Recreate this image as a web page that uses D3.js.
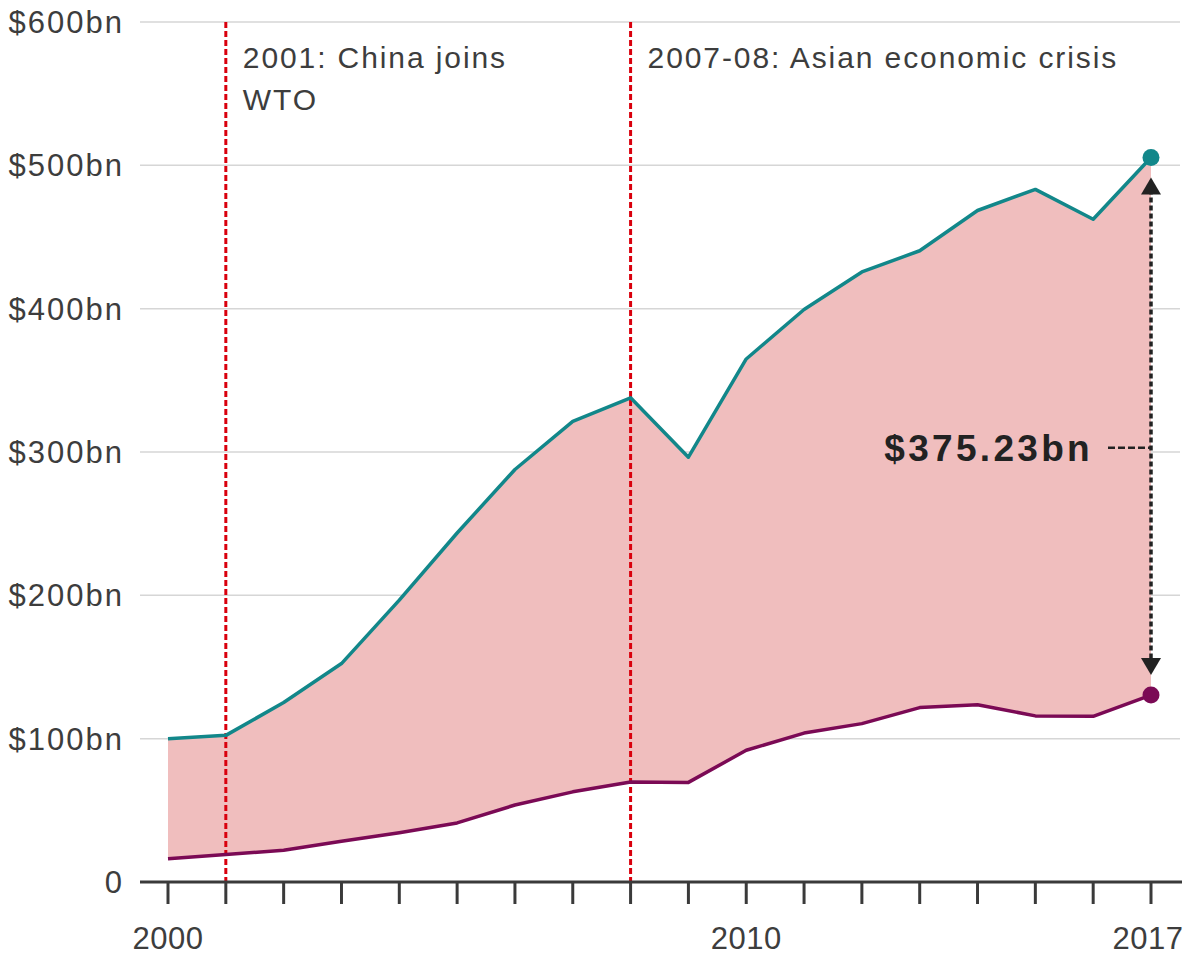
<!DOCTYPE html>
<html>
<head>
<meta charset="utf-8">
<script src="https://cdnjs.cloudflare.com/ajax/libs/d3/7.8.5/d3.min.js"></script>
<style>
  body { margin: 0; background: #fff; }
  svg text { font-family: "Liberation Sans", Arial, Helvetica, sans-serif; }
</style>
</head>
<body>
<div id="chart"></div>
<script>
// US trade with China, $bn
const years = d3.range(2000, 2018);
const imports = [100.0, 102.3, 125.2, 152.4, 196.7, 243.5, 287.8, 321.4, 337.8, 296.4,
                 364.9, 399.4, 425.6, 440.4, 468.5, 483.2, 462.4, 505.5];
const exports = [16.2, 19.2, 22.1, 28.4, 34.4, 41.2, 53.7, 62.9, 69.7, 69.5,
                 91.9, 103.9, 110.5, 121.7, 123.7, 115.9, 115.6, 130.4];
const yTicks = [0, 100, 200, 300, 400, 500, 600];
const xLabels = [2000, 2010, 2017];
const events = [
    { year: 2001, lines: ["2001: China joins", "WTO"] },
    { year: 2008, lines: ["2007-08: Asian economic crisis"] }
];
const gapLabel = "$375.23bn";
const gapLabelValue = 303;

const W = 1192, H = 957;
const textCol = "#3d3d3d";

const svg = d3.select("#chart").append("svg")
    .attr("width", W)
    .attr("height", H);

const x = d3.scaleLinear().domain([2000, 2017]).range([168, 1151]);
const y = d3.scaleLinear().domain([0, 600]).range([882, 22]);

// gridlines + y labels
const grid = svg.append("g");
yTicks.filter(d => d > 0).forEach(d => {
    grid.append("line")
        .attr("x1", 140).attr("x2", 1180)
        .attr("y1", y(d)).attr("y2", y(d))
        .attr("stroke", "#d6d6d6")
        .attr("stroke-width", 1.5);
});
yTicks.forEach(d => {
    grid.append("text")
        .attr("x", 124)
        .attr("y", y(d) + 11)
        .attr("text-anchor", "end")
        .attr("font-size", 31)
        .attr("letter-spacing", 2)
        .attr("fill", textCol)
        .text(d === 0 ? "0" : `$${d}bn`);
});

// area between series
const data = years.map((yr, i) => ({ year: yr, hi: imports[i], lo: exports[i] }));

svg.append("path")
    .datum(data)
    .attr("fill", "#f0bebe")
    .attr("d", d3.area()
        .x(d => x(d.year))
        .y0(d => y(d.lo))
        .y1(d => y(d.hi)));

// event lines
events.forEach(ev => {
    svg.append("line")
        .attr("x1", x(ev.year)).attr("x2", x(ev.year))
        .attr("y1", y(600)).attr("y2", y(0))
        .attr("stroke", "#d9000d")
        .attr("stroke-width", 3)
        .attr("stroke-dasharray", "6,3");
    ev.lines.forEach((t, k) => {
        svg.append("text")
            .attr("x", x(ev.year) + 17)
            .attr("y", 68 + k * 42)
            .attr("font-size", 30)
            .attr("letter-spacing", 1.9)
            .attr("fill", textCol)
            .text(t);
    });
});

// series lines
svg.append("path")
    .datum(data)
    .attr("fill", "none")
    .attr("stroke", "#12878a")
    .attr("stroke-width", 3.5)
    .attr("stroke-linejoin", "round")
    .attr("d", d3.line().x(d => x(d.year)).y(d => y(d.hi)));

svg.append("path")
    .datum(data)
    .attr("fill", "none")
    .attr("stroke", "#7b0a55")
    .attr("stroke-width", 3.5)
    .attr("stroke-linejoin", "round")
    .attr("d", d3.line().x(d => x(d.year)).y(d => y(d.lo)));

// x axis
const xAxis = svg.append("g");
xAxis.append("line")
    .attr("x1", 140).attr("x2", 1182)
    .attr("y1", y(0)).attr("y2", y(0))
    .attr("stroke", "#3a3a3a")
    .attr("stroke-width", 3);
years.forEach(yr => {
    xAxis.append("line")
        .attr("x1", x(yr)).attr("x2", x(yr))
        .attr("y1", y(0)).attr("y2", y(0) + 22)
        .attr("stroke", "#3a3a3a")
        .attr("stroke-width", 3);
});
xLabels.forEach(yr => {
    xAxis.append("text")
        .attr("x", x(yr) - (yr === 2017 ? 3 : 0))
        .attr("y", 949)
        .attr("text-anchor", "middle")
        .attr("font-size", 31)
        .attr("letter-spacing", 0.5)
        .attr("fill", textCol)
        .text(String(yr));
});

// gap annotation at the last year
const last = data[data.length - 1];
const ax = x(last.year);
const arrowTop = y(last.hi) + 20, arrowBot = y(last.lo) - 20;

svg.append("line")
    .attr("x1", ax).attr("x2", ax)
    .attr("y1", arrowTop + 12).attr("y2", arrowBot - 12)
    .attr("stroke", "#222")
    .attr("stroke-width", 3.5)
    .attr("stroke-dasharray", "5,3");

svg.append("path")
    .attr("d", `M${ax},${arrowTop} L${ax - 10},${arrowTop + 17} L${ax + 10},${arrowTop + 17} Z`)
    .attr("fill", "#222");
svg.append("path")
    .attr("d", `M${ax},${arrowBot} L${ax - 10},${arrowBot - 17} L${ax + 10},${arrowBot - 17} Z`)
    .attr("fill", "#222");

const ly = y(gapLabelValue);
svg.append("line")
    .attr("x1", ax - 43).attr("x2", ax)
    .attr("y1", ly).attr("y2", ly)
    .attr("stroke", "#222")
    .attr("stroke-width", 2.5)
    .attr("stroke-dasharray", "7,3");

svg.append("text")
    .attr("x", 1093)
    .attr("y", ly + 13)
    .attr("text-anchor", "end")
    .attr("font-size", 37)
    .attr("font-weight", "bold")
    .attr("letter-spacing", 3.3)
    .attr("fill", "#222")
    .text(gapLabel);

// end dots
svg.append("circle")
    .attr("cx", ax).attr("cy", y(last.hi)).attr("r", 8.5)
    .attr("fill", "#12878a");
svg.append("circle")
    .attr("cx", ax).attr("cy", y(last.lo)).attr("r", 8.5)
    .attr("fill", "#7b0a55");
</script>
</body>
</html>
